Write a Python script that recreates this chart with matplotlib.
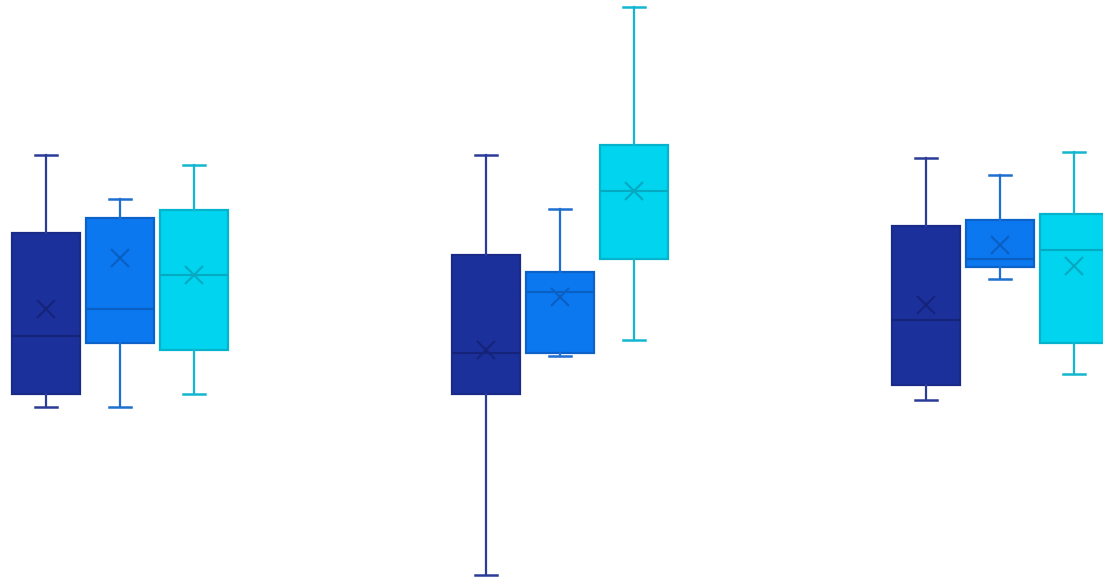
import matplotlib.pyplot as plt
import numpy as np

groups = ['A', 'B', 'C']
series = ['navy', 'blue', 'cyan']

# per series, one value per group
whislo = [[29.6, 0.5, 30.8], [29.6, 38.4, 51.7], [31.8, 41.2, 35.3]]
q1 = [[31.8, 31.8, 33.4], [40.7, 38.9, 53.8], [39.4, 55.2, 40.7]]
med = [[41.9, 38.9, 44.6], [46.5, 49.5, 55.2], [52.4, 67.0, 56.7]]
q3 = [[59.7, 55.9, 60.9], [62.3, 52.9, 61.9], [63.7, 74.9, 63.0]]
whishi = [[73.2, 73.2, 72.7], [65.6, 63.8, 69.7], [71.5, 98.8, 73.7]]
mean = [[46.5, 39.4, 47.2], [55.4, 48.6, 57.6], [52.4, 67.0, 54.0]]

fills = ['#1c309b', '#0b78f0', '#00d4ee']
edges = ['#1a2a88', '#0c62c8', '#05b4cc']
lines = ['#2a3c98', '#1f6fd0', '#12b6ce']
marks = ['#15237a', '#0a5fc2', '#06a9c2']

fig = plt.figure(figsize=(11.03, 5.78), dpi=100)
ax = fig.add_axes([0, 0, 1, 1])

offset = 74 / 440
width = 68 / 440
for s in range(3):
    stats = []
    for g in range(3):
        stats.append(dict(whislo=whislo[s][g], q1=q1[s][g], med=med[s][g],
                          q3=q3[s][g], whishi=whishi[s][g], mean=mean[s][g], fliers=[]))
    pos = np.arange(3) + (s - 1) * offset
    ax.bxp(stats, positions=pos, widths=width, capwidths=22 / 440,
           showmeans=True, patch_artist=True,
           boxprops=dict(facecolor=fills[s], edgecolor=edges[s], linewidth=1.6),
           medianprops=dict(color=marks[s], linewidth=1.5),
           whiskerprops=dict(color=lines[s], linewidth=1.6),
           capprops=dict(color=lines[s], linewidth=1.8),
           meanprops=dict(marker='x', markeredgecolor=marks[s], markersize=13,
                          markeredgewidth=1.5))

ax.set_xlim(-120 / 440, (1103 - 120) / 440)
ax.set_ylim(0, 100)
ax.axis('off')

fig.savefig('out.png', dpi=100)
